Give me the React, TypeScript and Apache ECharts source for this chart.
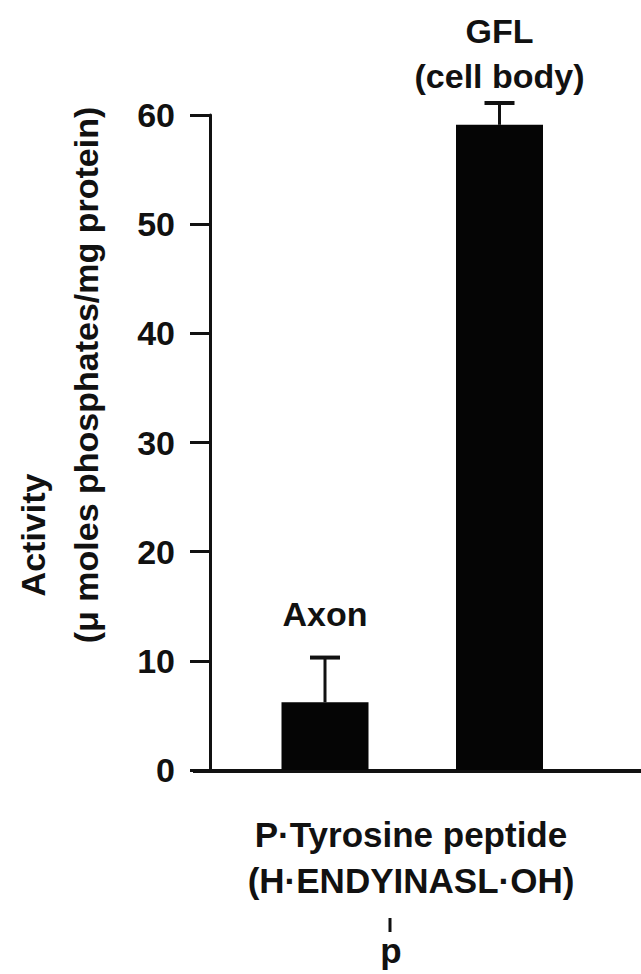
import React, { useEffect, useRef } from 'react';
import * as echarts from 'echarts';

// ---- data ----
const categories = ['Axon', 'GFL'];
const categoryLabels = ['Axon', 'GFL\n(cell body)'];
const activity = [6.2, 59.1];
const errorTop = [10.3, 61.1];
const yMin = 0;
const yMax = 60;
const yInterval = 10;
const yTitle = 'Activity';
const ySubtitle = '(\u03bc moles phosphates/mg protein)';
const xTitleLines = ['P\u00b7Tyrosine peptide', '(H\u00b7ENDYINASL\u00b7OH)'];
const xTitleSub = 'p';

// ---- styles / layout ----
const FONT = '"Liberation Sans", Arial, Helvetica, sans-serif';
const INK = '#111';
const labelGap = [21, 4];

export default function App() {
  const ref = useRef<HTMLDivElement>(null);
  useEffect(() => {
    if (!ref.current) return;
    const chart = echarts.init(ref.current, undefined, { renderer: 'svg' });
    const option: any = {
      animation: false,
      backgroundColor: '#fff',
      grid: { left: 237.75, right: 54.25, top: 115, bottom: 204, containLabel: false },
      xAxis: {
        type: 'category',
        data: categories,
        axisLine: { show: false },
        axisTick: { show: false },
        axisLabel: { show: false },
        splitLine: { show: false },
      },
      yAxis: {
        type: 'value',
        min: yMin,
        max: yMax,
        interval: yInterval,
        offset: 27.75,
        axisLine: { show: true, lineStyle: { color: INK, width: 3 } },
        axisTick: { show: true, length: 20, lineStyle: { color: INK, width: 3 } },
        axisLabel: { color: INK, fontSize: 34, fontWeight: 'bold', fontFamily: FONT, margin: 35 },
        splitLine: { show: false },
      },
      series: [
        {
          type: 'bar',
          data: activity,
          barWidth: 87,
          itemStyle: { color: '#050505' },
          z: 2,
        },
        {
          type: 'custom',
          data: categories.map((c, i) => [i, activity[i], errorTop[i]]),
          encode: { x: 0, y: [1, 2] },
          z: 3,
          renderItem: (params: any, api: any) => {
            const i = api.value(0);
            const base = api.coord([i, api.value(1)]);
            const top = api.coord([i, api.value(2)]);
            const idx = params.dataIndex;
            const half = 15;
            return {
              type: 'group',
              children: [
                { type: 'line', shape: { x1: top[0], y1: base[1], x2: top[0], y2: top[1] }, style: { stroke: INK, lineWidth: 3 } },
                { type: 'line', shape: { x1: top[0] - half, y1: top[1], x2: top[0] + half, y2: top[1] }, style: { stroke: INK, lineWidth: 4 } },
                {
                  type: 'text',
                  style: {
                    text: categoryLabels[idx],
                    x: top[0],
                    y: top[1] - labelGap[idx],
                    align: 'center',
                    verticalAlign: 'bottom',
                    fontSize: 34,
                    fontWeight: 'bold',
                    fontFamily: FONT,
                    lineHeight: 45,
                    fill: INK,
                  },
                },
              ],
            };
          },
        },
      ],
      graphic: [
        { type: 'line', shape: { x1: 193, y1: 771, x2: 641, y2: 771 }, style: { stroke: INK, lineWidth: 4 }, z: 1 },
        { type: 'text', x: 33, y: 535, rotation: Math.PI / 2, style: { text: yTitle, align: 'center', verticalAlign: 'middle', fontSize: 34, fontWeight: 'bold', fontFamily: FONT, fill: INK } },
        { type: 'text', x: 86, y: 375, rotation: Math.PI / 2, style: { text: ySubtitle, align: 'center', verticalAlign: 'middle', fontSize: 34, fontWeight: 'bold', fontFamily: FONT, fill: INK } },
        { type: 'text', x: 411, y: 834, style: { text: xTitleLines[0], align: 'center', verticalAlign: 'middle', fontSize: 35, fontWeight: 'bold', fontFamily: FONT, fill: INK } },
        { type: 'text', x: 411, y: 880, style: { text: xTitleLines[1], align: 'center', verticalAlign: 'middle', fontSize: 35, fontWeight: 'bold', fontFamily: FONT, fill: INK } },
        { type: 'line', shape: { x1: 390, y1: 918, x2: 390, y2: 932 }, style: { stroke: INK, lineWidth: 3 } },
        { type: 'text', x: 391, y: 950, style: { text: xTitleSub, align: 'center', verticalAlign: 'middle', fontSize: 35, fontWeight: 'bold', fontFamily: FONT, fill: INK } },
      ],
    };
    chart.setOption(option);
    return () => chart.dispose();
  }, []);
  return <div ref={ref} style={{ position: 'fixed', left: 0, top: 0, width: 641, height: 974 }} />;
}
